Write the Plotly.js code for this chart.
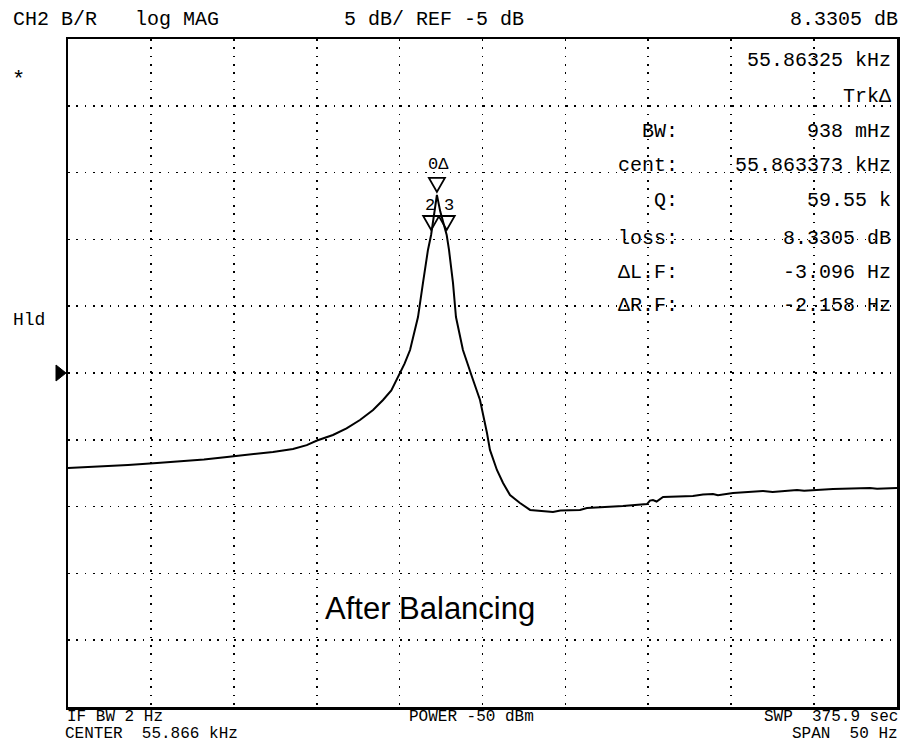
<!DOCTYPE html>
<html>
<head>
<meta charset="utf-8">
<script src="https://cdn.plot.ly/plotly-3.0.1.min.js"></script>
<style>html,body{margin:0;padding:0;background:#fff;}#chart{width:902px;height:750px;}</style>
</head>
<body>
<div id="chart"></div>
<script>
// ---- data ----
const freqHz = [55841.00,55842.15,55843.30,55844.62,55846.37,55847.94,55849.20,55850.59,55852.00,55853.36,
  55854.57,55855.40,55856.02,55856.98,55857.80,55858.61,55859.40,55860.00,55860.50,55860.90,
  55861.30,55861.63,55862.11,55862.41,55862.71,55862.90,55863.10,55863.25,55863.45,55863.84,
  55863.98,55864.22,55864.40,55864.82,55865.37,55865.85,55866.27,55866.45,55866.87,55867.24,
  55867.66,55868.26,55868.87,55869.60,55870.25,55870.70,55871.88,55872.30,55873.50,55874.47,
  55875.92,55876.10,55876.28,55876.50,55876.89,55878.69,55879.30,55879.90,55880.20,55881.11,
  55882.92,55883.50,55884.97,55885.40,55887.14,55889.37,55889.80,55891.00];
const magDB = [-12.11,-12.04,-12.00,-11.89,-11.74,-11.62,-11.48,-11.29,-11.10,-10.91,
  -10.69,-10.40,-10.05,-9.64,-9.15,-8.52,-7.77,-7.02,-6.30,-5.30,
  -4.30,-3.28,-0.81,1.74,4.21,5.33,7.00,8.33,7.10,5.33,
  4.21,1.74,-0.81,-3.28,-5.30,-7.02,-9.49,-10.76,-12.26,-13.23,
  -14.13,-14.73,-15.25,-15.30,-15.40,-15.30,-15.25,-15.10,-15.05,-14.96,
  -14.81,-14.55,-14.51,-14.62,-14.28,-14.21,-14.10,-14.06,-14.15,-13.98,
  -13.83,-13.90,-13.76,-13.82,-13.68,-13.61,-13.66,-13.61];

const markerLabels = ["0\u0394", "2", "3"];
const markerFreq = [55863.25, 55862.904, 55863.842];
const markerDB = [8.33, 5.33, 5.33];

const centerHz = 55866, spanHz = 50;
const refDB = -5, scaleDB = 5, divisions = 10;

const headerTexts = ["CH2 B/R", "log MAG", "5 dB/ REF -5 dB", "8.3305 dB"];
const panelLabels = ["BW:", "cent:", "Q:", "loss:", "\u0394L.F:", "\u0394R.F:"];
const panelValues = ["938 mHz", "55.863373 kHz", "59.55 k", "8.3305 dB", "-3.096 Hz", "-2.158 Hz"];
const footerTexts = ["IF BW 2 Hz", "CENTER  55.866 kHz", "POWER -50 dBm", "SWP  375.9 sec", "SPAN  50 Hz"];

// ---- layout helpers ----
const W = 902, H = 750, L = 68, R = 897, T = 39, B = 707;
const HP = "Liberation Mono, DejaVu Sans Mono, monospace";
function px(x){ return (x - L) / (R - L); }
function py(y){ return (B - y) / (B - T); }
function txt(text, x, y, anchor, size, font){
  return {text: text, xref: "paper", yref: "paper", x: px(x), y: py(y), xanchor: anchor, yanchor: "middle",
    showarrow: false, borderpad: 0, font: {family: font || HP, size: size || 20, color: "#000"}};
}

const ann = [];
ann.push(txt(headerTexts[0], 12, 19, "left", 20));
ann.push(txt(headerTexts[1], 134, 19, "left", 20));
ann.push(txt(headerTexts[2], 343, 19, "left", 20));
ann.push(txt(headerTexts[3], 899, 19, "right", 20));
ann.push(txt("*", 18, 80, "center", 22));
ann.push(txt("Hld", 12, 320, "left", 18));
ann.push(txt("55.86325 kHz", 892, 60, "right", 20));
ann.push(txt("Trk\u0394", 892, 97, "right", 20));
const rowY = [132, 165, 200, 238, 272, 305];
for (let i = 0; i < panelLabels.length; i++) {
  ann.push(txt(panelLabels[i], 679, rowY[i], "right", 20));
  ann.push(txt(panelValues[i], 892, rowY[i], "right", 20));
}
ann.push(txt(footerTexts[0], 66, 717, "left", 16));
ann.push(txt(footerTexts[1], 64, 734, "left", 16));
ann.push(txt(footerTexts[2], 408, 717, "left", 16));
ann.push(txt(footerTexts[3], 899, 717, "right", 16));
ann.push(txt(footerTexts[4], 899, 734, "right", 16));
ann.push(txt("After Balancing", 430, 608, "center", 31, "Liberation Sans, Arial, sans-serif"));

// marker labels (data positioned)
const labShift = [[2, 30], [-1, 29], [2, 29]];
for (let i = 0; i < markerLabels.length; i++) {
  ann.push({text: markerLabels[i], x: markerFreq[i], y: markerDB[i], xref: "x", yref: "y",
    xanchor: "center", yanchor: "middle", showarrow: false, borderpad: 0, xshift: labShift[i][0], yshift: labShift[i][1],
    font: {family: HP, size: 17, color: "#000"}});
}

// marker triangles as pixel-sized shapes anchored at the data points
const triPath = ["M-8,17 L8,17 L0,3 Z", "M-8,19 L8,19 L0,5 Z", "M-8,19 L8,19 L0,5 Z"];
const shapes = [];
for (let i = 0; i < markerLabels.length; i++) {
  shapes.push({type: "path", xref: "x", yref: "y", xsizemode: "pixel", ysizemode: "pixel",
    xanchor: markerFreq[i], yanchor: markerDB[i],
    path: triPath[i], line: {color: "#000", width: 1.8}, fillcolor: "rgba(0,0,0,0)"});
}
// reference-level pointer at left edge
shapes.push({type: "path", xref: "paper", yref: "y", xsizemode: "pixel", ysizemode: "pixel",
  xanchor: 0, yanchor: refDB, path: "M-12,-8 L-12,8 L-2,0 Z", line: {color: "#000", width: 1}, fillcolor: "#000"});

const xMin = centerHz - spanHz / 2, xMax = centerHz + spanHz / 2;
const yMax = refDB + scaleDB * divisions / 2, yMin = refDB - scaleDB * divisions / 2;

const data = [{x: freqHz, y: magDB, type: "scatter", mode: "lines",
  line: {color: "#000", width: 2}, hoverinfo: "skip", showlegend: false}];

const layout = {
  width: W, height: H,
  margin: {l: L, r: W - R, t: T, b: H - B, pad: 0},
  paper_bgcolor: "#fff", plot_bgcolor: "#fff",
  showlegend: false,
  xaxis: {range: [xMin, xMax], tick0: xMin, dtick: spanHz / divisions, showticklabels: false, ticks: "",
    showgrid: true, gridcolor: "#000", gridwidth: 1.6, griddash: "1.6px,6.7px", zeroline: false,
    showline: true, linecolor: "#000", linewidth: 2.5, mirror: true, fixedrange: true},
  yaxis: {range: [yMin, yMax], tick0: yMin, dtick: scaleDB, showticklabels: false, ticks: "",
    showgrid: true, gridcolor: "#000", gridwidth: 1.6, griddash: "1.6px,6.7px", zeroline: false,
    showline: true, linecolor: "#000", linewidth: 2.5, mirror: true, fixedrange: true},
  annotations: ann,
  shapes: shapes
};

Plotly.newPlot("chart", data, layout, {displayModeBar: false, staticPlot: true});
</script>
</body>
</html>
